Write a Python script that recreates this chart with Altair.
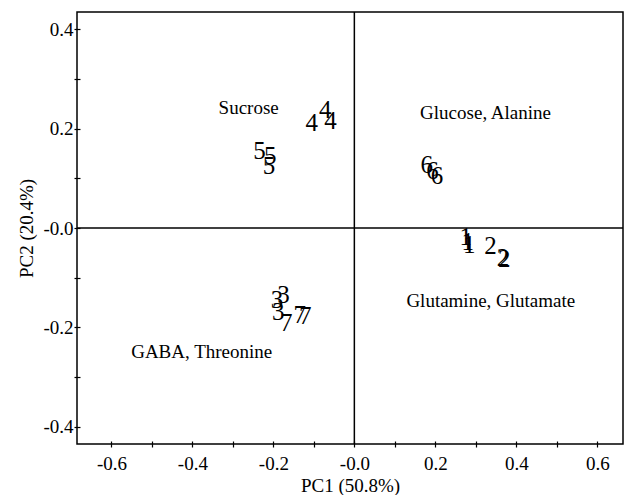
import altair as alt
import pandas as pd

# sample scores (label, PC1, PC2)
labels = ["4", "4", "4", "5", "5", "5", "6", "6", "6",
          "1", "1", "1", "2", "2", "2", "3", "3", "3", "7", "7", "7"]
pc1 = [-0.072, -0.105, -0.059, -0.234, -0.208, -0.211, 0.179, 0.193, 0.204,
       0.275, 0.280, 0.284, 0.336, 0.367, 0.370, -0.175, -0.191, -0.188, -0.168, -0.135, -0.121]
pc2 = [0.237, 0.212, 0.215, 0.155, 0.145, 0.125, 0.126, 0.115, 0.105,
       -0.019, -0.029, -0.035, -0.036, -0.060, -0.062, -0.135, -0.145, -0.170, -0.192, -0.176, -0.178]

# annotation texts
ann_text = ["Sucrose", "Glucose, Alanine", "Glutamine, Glutamate", "GABA, Threonine"]
ann_x = [-0.261, 0.324, 0.337, -0.377]
ann_y = [0.242, 0.231, -0.148, -0.250]

x_ticks = [round(-0.6 + 0.1 * i, 1) for i in range(13)]
y_ticks = [round(-0.4 + 0.1 * i, 1) for i in range(9)]

FONT = "Liberation Serif"
xdom = [-0.685, 0.6635]
ydom = [-0.435, 0.435]

samples = pd.DataFrame({"label": labels, "pc1": pc1, "pc2": pc2})
ann = pd.DataFrame({"text": ann_text, "x": ann_x, "y": ann_y})

label_expr = ("round(datum.value*10) % 2 != 0 ? '' : "
              "((datum.value < 1e-9 ? '-' : '') + format(abs(datum.value), '.1f'))")

common = dict(grid=False, domain=False, tickColor="black", labelColor="black",
              titleColor="black", labelFont=FONT, titleFont=FONT, labelFontSize=19,
              titleFontSize=19, titleFontWeight="normal", tickWidth=1.2,
              offset=-3, tickSize=6, labelExpr=label_expr)

xaxis = alt.Axis(values=x_ticks, title="PC1 (50.8%)", labelPadding=7, titlePadding=3, **common)
yaxis = alt.Axis(values=y_ticks, title="PC2 (20.4%)", labelPadding=1, titlePadding=6, **common)

xs = alt.Scale(domain=xdom, nice=False, zero=False)
ys = alt.Scale(domain=ydom, nice=False, zero=False)

pts = alt.Chart(samples).mark_text(font=FONT, fontSize=25, baseline="middle", align="center",
                                   color="black").encode(
    x=alt.X("pc1:Q", scale=xs, axis=xaxis),
    y=alt.Y("pc2:Q", scale=ys, axis=yaxis),
    text="label:N",
)

vline = alt.Chart(pd.DataFrame({"v": [0.0]})).mark_rule(color="black", strokeWidth=1.5).encode(
    x=alt.X("v:Q", scale=xs))
hline = alt.Chart(pd.DataFrame({"v": [0.0]})).mark_rule(color="black", strokeWidth=1.5).encode(
    y=alt.Y("v:Q", scale=ys))

anns = alt.Chart(ann).mark_text(font=FONT, fontSize=19, baseline="middle", align="center",
                                color="black").encode(
    x=alt.X("x:Q", scale=xs),
    y=alt.Y("y:Q", scale=ys),
    text="text:N",
)

chart = alt.layer(vline, hline, pts, anns).properties(
    width=546, height=432,
    autosize=alt.AutoSizeParams(type="none"),
    padding={"left": 69, "top": 4, "right": 1, "bottom": 51},
    background="white",
).configure_view(stroke="black", strokeWidth=1.5)

chart.save("out.html", embed_options={"renderer": "svg", "actions": False})
